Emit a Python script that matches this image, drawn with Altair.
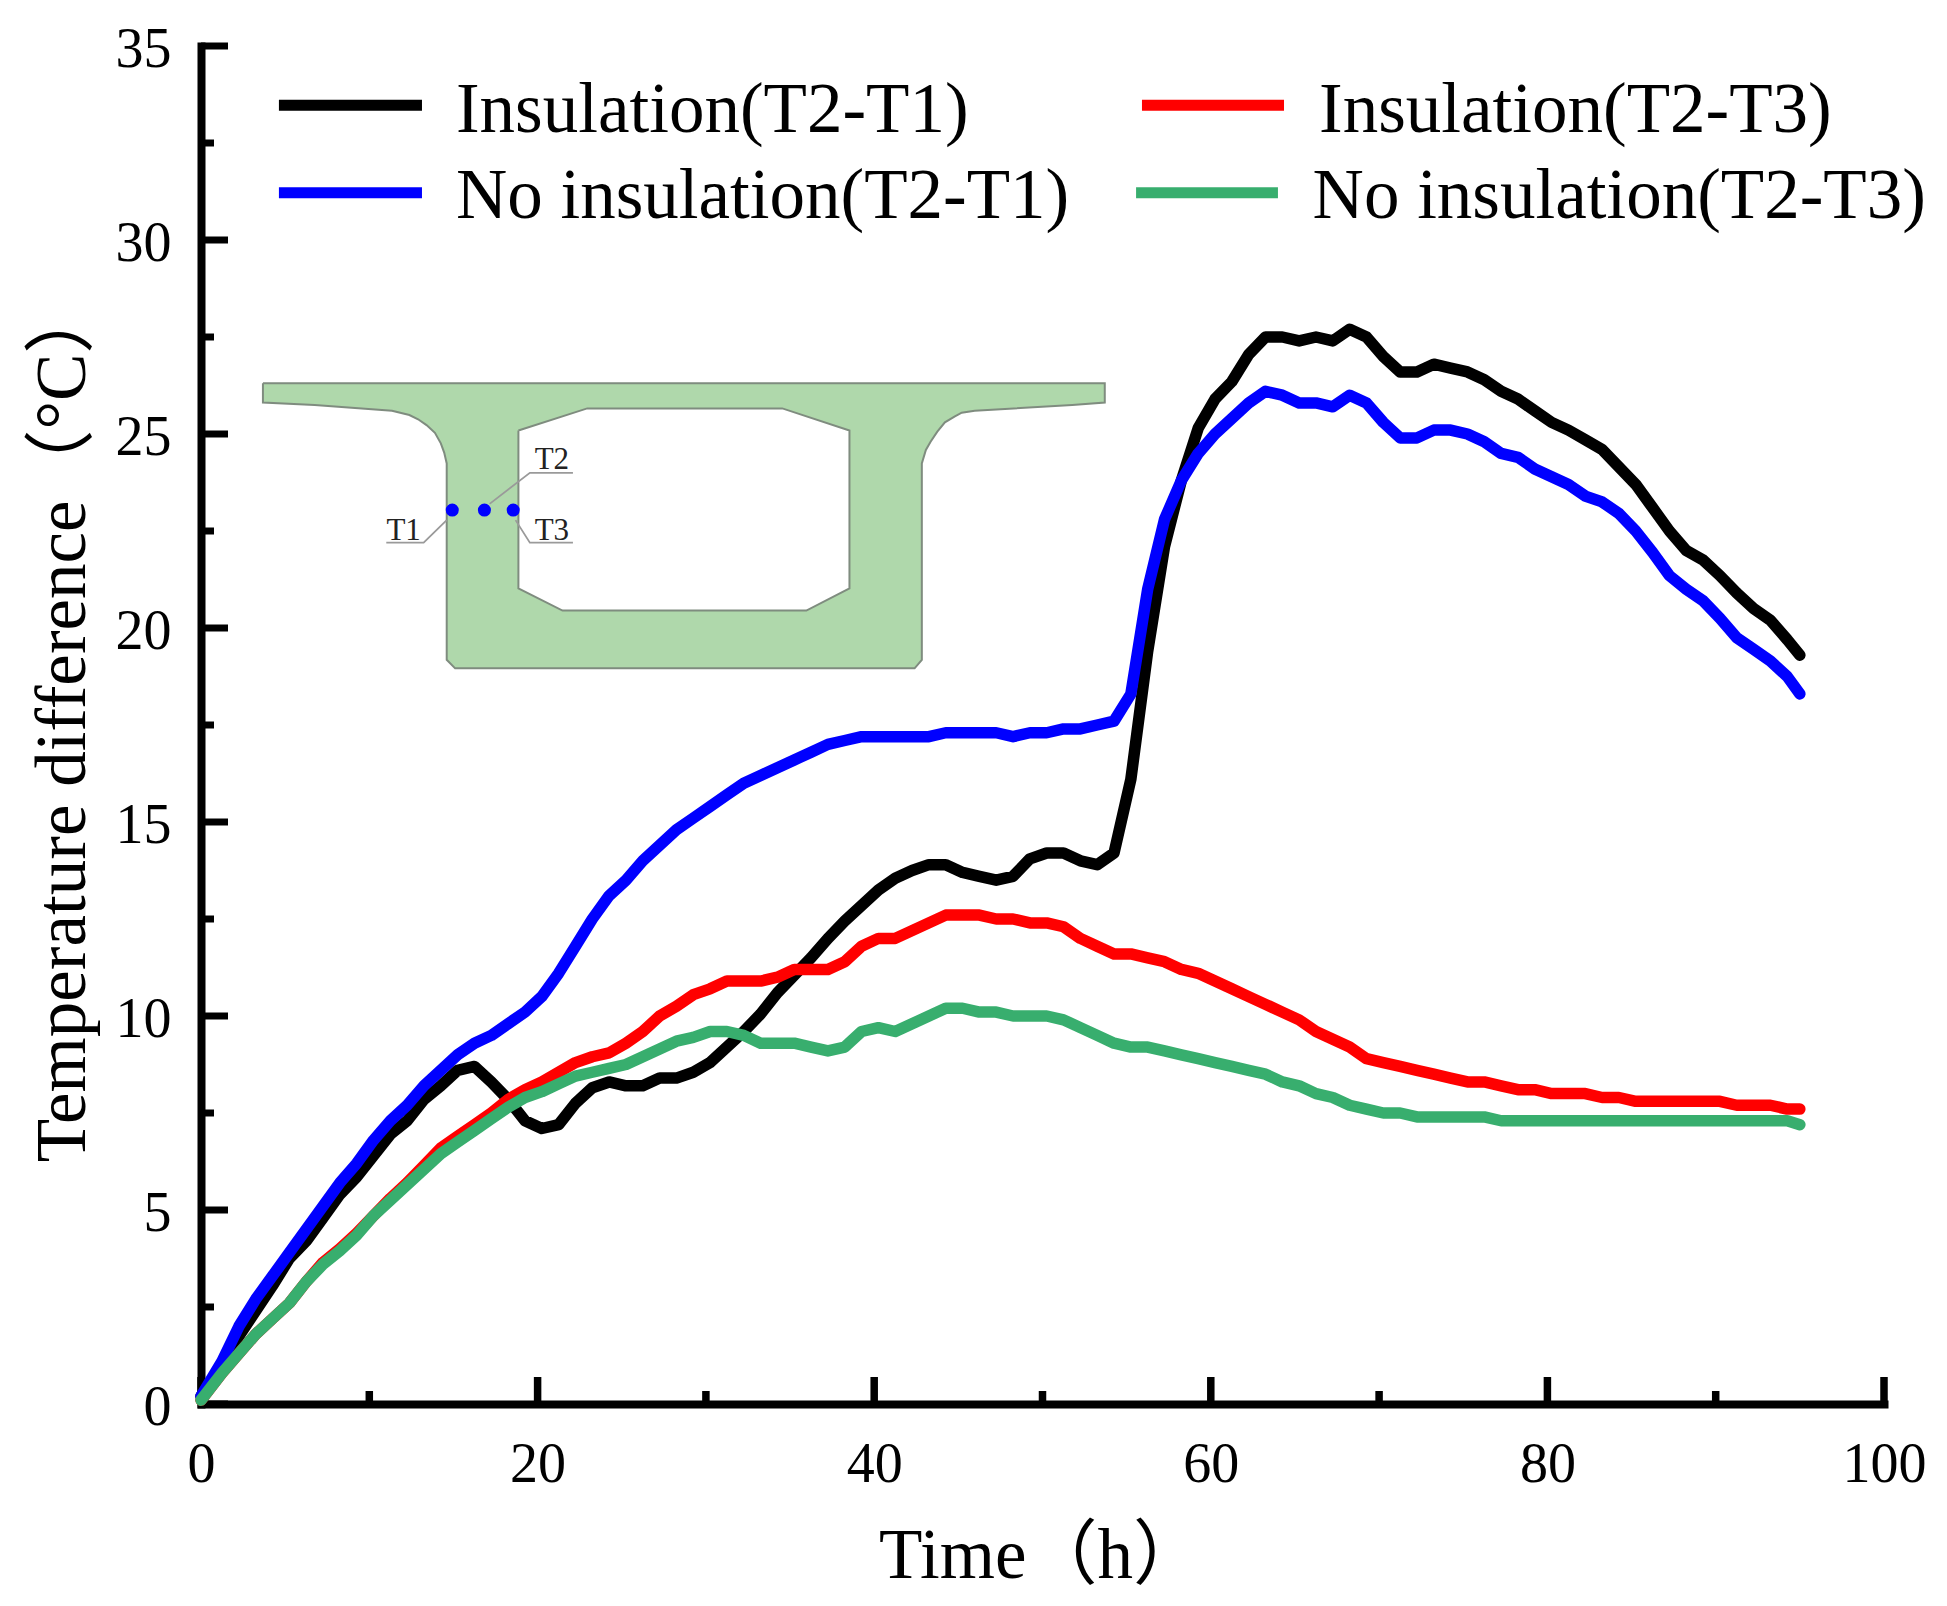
import altair as alt
import pandas as pd

FONT = "Liberation Serif, Noto Sans CJK SC"

hours = [0, 1.25, 2.25, 3.25, 4.25, 5.25, 6.25, 7.25, 8.25, 9.25, 10.25, 11.25, 12.25, 13.25, 14.25, 15.25,
         16.25, 17.25, 18.25, 19.25, 20.25, 21.25, 22.25, 23.25, 24.25, 25.25, 26.25, 27.25, 28.25, 29.25, 30.25, 31.25,
         32.25, 33.25, 34.25, 35.25, 36.25, 37.25, 38.25, 39.25, 40.25, 41.25, 42.25, 43.25, 44.25, 45.25, 46.25, 47.25,
         48.25, 49.25, 50.25, 51.25, 52.25, 53.25, 54.25, 55.25, 56.25, 57.25, 58.25, 59.25, 60.25, 61.25, 62.25, 63.25,
         64.25, 65.25, 66.25, 67.25, 68.25, 69.25, 70.25, 71.25, 72.25, 73.25, 74.25, 75.25, 76.25, 77.25, 78.25, 79.25,
         80.25, 81.25, 82.25, 83.25, 84.25, 85.25, 86.25, 87.25, 88.25, 89.25, 90.25, 91.25, 92.25, 93.25, 94.25, 95]

insulation_t1 = [0.2, 1.0, 1.75, 2.4, 3.05, 3.75, 4.2, 4.8, 5.4, 5.85, 6.4, 6.95, 7.3, 7.85, 8.2, 8.6,
                 8.7, 8.3, 7.85, 7.3, 7.1, 7.2, 7.75, 8.15, 8.3, 8.2, 8.2, 8.4, 8.4, 8.55, 8.8, 9.2,
                 9.6, 10.05, 10.6, 11.05, 11.5, 12.0, 12.45, 12.85, 13.25, 13.55, 13.75, 13.9, 13.9, 13.7, 13.6, 13.5,
                 13.6, 14.05, 14.2, 14.2, 14.0, 13.9, 14.2, 16.1, 19.4, 22.1, 23.8, 25.15, 25.9, 26.35, 27.05, 27.5,
                 27.5, 27.4, 27.5, 27.4, 27.7, 27.5, 27.0, 26.6, 26.6, 26.8, 26.7, 26.6, 26.4, 26.1, 25.9, 25.6,
                 25.3, 25.1, 24.85, 24.6, 24.15, 23.7, 23.1, 22.5, 22.0, 21.75, 21.35, 20.9, 20.5, 20.2, 19.7, 19.3]
no_insulation_t1 = [0.2, 1.1, 2.0, 2.7, 3.3, 3.9, 4.5, 5.1, 5.7, 6.2, 6.8, 7.3, 7.7, 8.2, 8.6, 9.0,
                    9.3, 9.5, 9.8, 10.1, 10.5, 11.1, 11.8, 12.5, 13.1, 13.5, 14.0, 14.4, 14.8, 15.1, 15.4, 15.7,
                    16.0, 16.2, 16.4, 16.6, 16.8, 17.0, 17.1, 17.2, 17.2, 17.2, 17.2, 17.2, 17.3, 17.3, 17.3, 17.3,
                    17.2, 17.3, 17.3, 17.4, 17.4, 17.5, 17.6, 18.3, 21.0, 22.8, 23.8, 24.5, 25.0, 25.4, 25.8, 26.1,
                    26.0, 25.8, 25.8, 25.7, 26.0, 25.8, 25.3, 24.9, 24.9, 25.1, 25.1, 25.0, 24.8, 24.5, 24.4, 24.1,
                    23.9, 23.7, 23.4, 23.25, 22.95, 22.5, 21.95, 21.35, 21.0, 20.7, 20.25, 19.75, 19.45, 19.15, 18.75, 18.3]
insulation_t3 = [0.1, 0.8, 1.3, 1.8, 2.2, 2.6, 3.15, 3.65, 4.0, 4.4, 4.85, 5.3, 5.7, 6.15, 6.6, 6.9,
                 7.2, 7.5, 7.85, 8.1, 8.3, 8.55, 8.8, 8.95, 9.05, 9.3, 9.6, 10.0, 10.25, 10.55, 10.7, 10.9,
                 10.9, 10.9, 11.0, 11.2, 11.2, 11.2, 11.4, 11.8, 12.0, 12.0, 12.2, 12.4, 12.6, 12.6, 12.6, 12.5,
                 12.5, 12.4, 12.4, 12.3, 12.0, 11.8, 11.6, 11.6, 11.5, 11.4, 11.2, 11.1, 10.9, 10.7, 10.5, 10.3,
                 10.1, 9.9, 9.6, 9.4, 9.2, 8.9, 8.8, 8.7, 8.6, 8.5, 8.4, 8.3, 8.3, 8.2, 8.1, 8.1,
                 8.0, 8.0, 8.0, 7.9, 7.9, 7.8, 7.8, 7.8, 7.8, 7.8, 7.8, 7.7, 7.7, 7.7, 7.6, 7.6]
no_insulation_t3 = [0.1, 0.8, 1.3, 1.8, 2.2, 2.6, 3.15, 3.6, 3.95, 4.35, 4.85, 5.25, 5.65, 6.05, 6.45, 6.75,
                    7.05, 7.35, 7.65, 7.9, 8.05, 8.25, 8.45, 8.55, 8.65, 8.75, 8.95, 9.15, 9.35, 9.45, 9.6, 9.6,
                    9.5, 9.3, 9.3, 9.3, 9.2, 9.1, 9.2, 9.6, 9.7, 9.6, 9.8, 10.0, 10.2, 10.2, 10.1, 10.1,
                    10.0, 10.0, 10.0, 9.9, 9.7, 9.5, 9.3, 9.2, 9.2, 9.1, 9.0, 8.9, 8.8, 8.7, 8.6, 8.5,
                    8.3, 8.2, 8.0, 7.9, 7.7, 7.6, 7.5, 7.5, 7.4, 7.4, 7.4, 7.4, 7.4, 7.3, 7.3, 7.3,
                    7.3, 7.3, 7.3, 7.3, 7.3, 7.3, 7.3, 7.3, 7.3, 7.3, 7.3, 7.3, 7.3, 7.3, 7.3, 7.2]

x_major = [0, 20, 40, 60, 80, 100]
x_minor = [10, 30, 50, 70, 90]
y_major = [0, 5, 10, 15, 20, 25, 30, 35]
y_minor = [2.5, 7.5, 12.5, 17.5, 22.5, 27.5, 32.5]

legend_labels = ["Insulation(T2-T1)", "No insulation(T2-T1)", "Insulation(T2-T3)", "No insulation(T2-T3)"]
legend_colors = ["#000000", "#0000FF", "#FF0000", "#38AE6E"]
legend_x1 = [4.63, 4.63, 55.91, 55.56]
legend_x2 = [13.13, 13.13, 64.35, 63.99]
legend_y = [33.47, 31.22, 33.47, 31.22]
legend_text_x = [15.15, 15.15, 66.43, 66.05]
legend_text_y = [32.78, 30.57, 32.78, 30.57]

outer_x = [3.68, 53.7, 53.7, 51.77, 45.97, 45.2, 44.77, 44.2, 43.75, 43.35, 43.07, 42.83, 42.83, 42.4, 15.1, 14.6, 14.6, 14.45, 14.25, 13.9, 13.4, 12.9, 12.38, 11.35, 6.75, 3.68, 3.68]
outer_y = [26.31, 26.31, 25.81, 25.75, 25.6, 25.55, 25.45, 25.3, 25.06, 24.8, 24.59, 24.24, 19.18, 18.96, 18.96, 19.18, 24.24, 24.52, 24.76, 25.03, 25.23, 25.38, 25.49, 25.6, 25.75, 25.81, 26.31]
hole_x = [18.86, 22.95, 34.54, 38.53, 38.53, 35.97, 21.48, 18.86, 18.86]
hole_y = [25.09, 25.66, 25.66, 25.09, 21.02, 20.45, 20.45, 21.02, 25.09]

fill_x = [3.68, 6.75, 11.35, 12.38, 12.9, 13.4, 13.9, 14.25, 14.45, 14.6, 14.6, 15.1, 42.4, 42.83, 42.83, 43.07, 43.35, 43.75, 44.2, 44.77, 45.2, 45.97, 51.77, 53.7]
fill_low = [25.81, 25.75, 25.6, 25.49, 25.38, 25.23, 25.03, 24.76, 24.52, 24.24, 19.18, 18.96, 18.96, 19.18, 24.24, 24.59, 24.8, 25.06, 25.3, 25.45, 25.55, 25.6, 25.75, 25.81]
fill_high = [26.31] * len(fill_x)
void_x = [18.86, 21.48, 22.95, 34.54, 35.97, 38.53]
void_high = [25.09, 25.455, 25.66, 25.66, 25.456, 25.09]
void_low = [21.02, 20.45, 20.45, 20.45, 20.45, 21.02]

dot_x = [14.93, 16.84, 18.55]
dot_y = [23.04, 23.04, 23.04]
leader_group = ["T1", "T1", "T1", "T2", "T2", "T2", "T3", "T3", "T3"]
leader_x = [11.01, 13.23, 14.6, 22.1, 19.54, 17.15, 22.1, 19.54, 18.69]
leader_y = [22.2, 22.2, 22.78, 24.0, 24.0, 23.2, 22.2, 22.2, 22.78]
inset_labels = ["T1", "T2", "T3"]
inset_label_x = [12.04, 20.85, 20.85]
inset_label_y = [22.27, 24.09, 22.27]

xs = alt.Scale(domain=[0, 100], nice=False, zero=False)
ys = alt.Scale(domain=[0, 35], nice=False, zero=False)

x_axis = alt.Axis(values=x_major, ticks=False, grid=False, labelFont=FONT, labelFontSize=56, labelColor="black",
                  labelPadding=33, labelFlush=False, domainColor="black", domainWidth=8, domainCap="square",
                  title="Time（h）", titleFont=FONT, titleFontSize=71, titleFontWeight="normal", titleColor="black",
                  titleX=840, titleY=173, titleBaseline="alphabetic", titleAlign="center", format="d")
y_axis = alt.Axis(values=y_major, ticks=False, grid=False, labelFont=FONT, labelFontSize=56, labelColor="black",
                  labelPadding=30, labelFlush=False, labelOffset=3, domainColor="black", domainWidth=8, domainCap="square",
                  title="Temperature difference（°C）", titleFont=FONT, titleFontSize=71, titleFontWeight="normal",
                  titleColor="black", titleX=-117, titleY=676, titleBaseline="alphabetic", titleAlign="center",
                  titleAngle=270, format="d")
X = alt.X("x:Q", scale=xs, axis=x_axis)
Y = alt.Y("y:Q", scale=ys, axis=y_axis)

fill_df = pd.DataFrame({"x": fill_x, "y": fill_low, "top": fill_high})
void_df = pd.DataFrame({"x": void_x, "y": void_low, "top": void_high})
base = alt.Chart(fill_df).mark_area(fill="#AFD8AB", fillOpacity=1, stroke=None).encode(x=X, y=Y, y2=alt.Y2("top"))
void = alt.Chart(void_df).mark_area(fill="white", fillOpacity=1, stroke=None).encode(x=X, y=Y, y2=alt.Y2("top"))

outline_df = pd.DataFrame({
    "x": outer_x + hole_x, "y": outer_y + hole_y,
    "g": ["o"] * len(outer_x) + ["h"] * len(hole_x),
    "i": list(range(len(outer_x) + len(hole_x)))})
outline = alt.Chart(outline_df).mark_line(color="#7F8C7F", strokeWidth=2).encode(x=X, y=Y, detail="g:N", order="i:Q")

leader_df = pd.DataFrame({"x": leader_x, "y": leader_y, "g": leader_group, "i": range(len(leader_x))})
leaders = alt.Chart(leader_df).mark_line(color="#9A9A9A", strokeWidth=1.8).encode(x=X, y=Y, detail="g:N", order="i:Q")
dots = alt.Chart(pd.DataFrame({"x": dot_x, "y": dot_y})).mark_point(
    shape="circle", filled=True, size=170, color="#0000FF", opacity=1).encode(x=X, y=Y)
inset_text = alt.Chart(pd.DataFrame({"x": inset_label_x, "y": inset_label_y, "t": inset_labels})).mark_text(
    font=FONT, fontSize=31, color="#222222", align="center", baseline="alphabetic").encode(x=X, y=Y, text="t:N")


def series(values, color):
    d = pd.DataFrame({"x": hours, "y": values})
    return alt.Chart(d).mark_line(color=color, strokeWidth=11.5, strokeCap="round", strokeJoin="round").encode(x=X, y=Y)


lines = [series(insulation_t1, "#000000"), series(insulation_t3, "#FF0000"),
         series(no_insulation_t1, "#0000FF"), series(no_insulation_t3, "#38AE6E")]

leg_df = pd.DataFrame({"x": legend_x1, "x2": legend_x2, "y": legend_y, "tx": legend_text_x, "ty": legend_text_y,
                       "label": legend_labels, "color": legend_colors})
leg_rules = alt.Chart(leg_df).mark_rule(strokeWidth=11).encode(
    x=X, x2="x2:Q", y=Y, color=alt.Color("color:N", scale=None, legend=None))
leg_text = alt.Chart(leg_df).mark_text(font=FONT, fontSize=71, color="black", align="left", baseline="alphabetic").encode(
    x=alt.X("tx:Q", scale=xs, axis=x_axis), y=alt.Y("ty:Q", scale=ys, axis=y_axis), text="label:N")

PH = 1358
xt_major = alt.Chart(pd.DataFrame({"x": x_major})).mark_rule(color="black", strokeWidth=7.5).encode(
    x=X, y=alt.value(PH - 27), y2=alt.value(PH))
xt_minor = alt.Chart(pd.DataFrame({"x": x_minor})).mark_rule(color="black", strokeWidth=7.5).encode(
    x=X, y=alt.value(PH - 13), y2=alt.value(PH))
yt_major = alt.Chart(pd.DataFrame({"y": y_major})).mark_rule(color="black", strokeWidth=7).encode(
    y=Y, x=alt.value(0), x2=alt.value(27))
yt_minor = alt.Chart(pd.DataFrame({"y": y_minor})).mark_rule(color="black", strokeWidth=7).encode(
    y=Y, x=alt.value(0), x2=alt.value(13))

chart = alt.layer(
    base, void, outline, leaders, dots, inset_text,
    xt_major, xt_minor, yt_major, yt_minor,
    *lines, leg_rules, leg_text
).properties(
    width=1683, height=PH, background="white",
    autosize=alt.AutoSizeParams(type="none"),
    padding={"left": 193, "top": 38, "right": 55, "bottom": 190},
).configure_view(stroke=None)

chart.save("out.html", embed_options={"renderer": "svg", "actions": False})
